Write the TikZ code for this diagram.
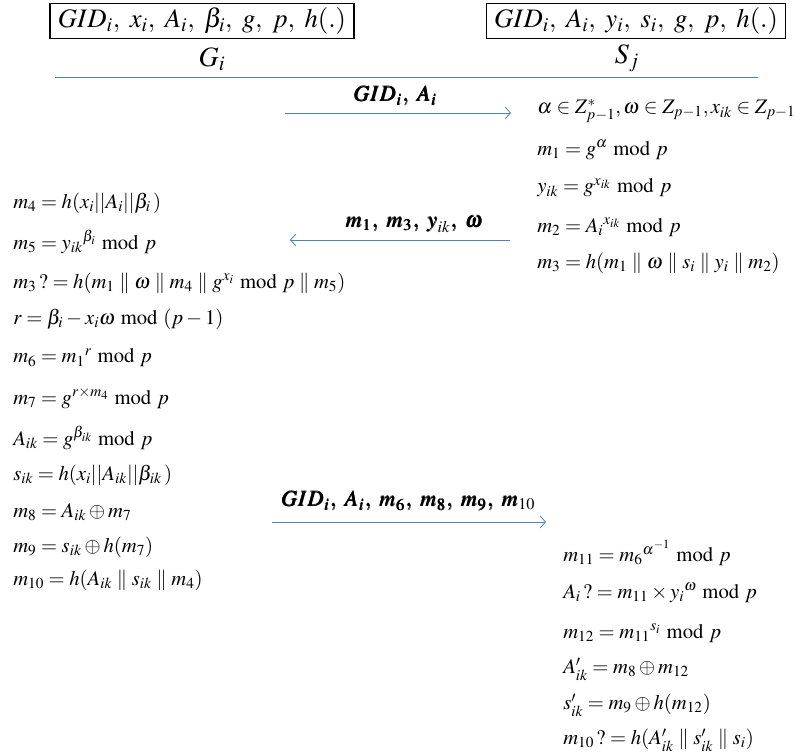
\documentclass[tikz,border=0pt]{standalone}
\usepackage{mathptmx}
\usepackage{bm}
\usepackage{fontspec}
\setmainfont{Liberation Serif}
\usetikzlibrary{arrows.meta}
\definecolor{msgblue}{RGB}{79,129,189}
\newcommand{\pp}{\mathrel{\|}}
\tikzset{
  eq/.style={anchor=west, inner sep=0pt, font=\fontsize{15.5}{17}\selectfont},
  hdr/.style={draw, line width=0.9pt, inner xsep=6pt, inner ysep=3pt, font=\fontsize{20}{22}\selectfont},
  party/.style={inner sep=0pt, font=\fontsize{21}{23}\selectfont},
  msg/.style={draw=msgblue, line width=0.6pt, -{Straight Barb[length=4pt,width=9pt]}},
  msglabel/.style={inner sep=0pt, font=\fontsize{16.5}{18}\selectfont},
}
\begin{document}
\begin{tikzpicture}[x=0.75pt,y=-0.75pt]
\useasboundingbox (0,0) rectangle (796,756);
% headers
\node[hdr] (hg) at (202,21) {$GID_i,\ x_i,\ A_i,\ \beta_i,\ g,\ p,\ h(.)$};
\node[hdr] (hs) at (636,21) {$GID_i,\ A_i,\ y_i,\ s_i,\ g,\ p,\ h(.)$};
\node[party] (gi) at (212,59) {$G_i$};
\node[party] (sj) at (627,58) {$S_j$};
\coordinate (la) at (55,77);
\coordinate (lb) at (758,77);
\draw[msgblue, line width=0.6pt] (la) -- (lb);
% message 1
\coordinate (a1s) at (285,113);
\coordinate (a1e) at (511,113);
\draw[msg] (a1s) -- (a1e);
\node[msglabel] (l1) at (395,96) {$\bm{GID_i,\; A_i}$};
% server column 1
\node[eq] (s1) at (537,111) {$\alpha \in Z^{*}_{p-1}, \omega \in Z_{p-1}, x_{ik} \in Z_{p-1}$};
\node[eq] (s2) at (537,150) {$m_1 = g^{\alpha} \bmod p$};
\node[eq] (s3) at (537,188) {$y_{ik} = g^{x_{ik}} \bmod p$};
\node[eq] (s4) at (537,227) {$m_2 = {A_i}^{x_{ik}} \bmod p$};
\node[eq] (s5) at (537,263) {$m_3 = h(m_1 \pp \omega \pp s_i \pp y_i \pp m_2)$};
% message 2
\coordinate (a2s) at (510,240);
\coordinate (a2e) at (290,240);
\draw[msg] (a2s) -- (a2e);
\node[msglabel] (l2) at (414,224) {$\bm{m_1,\; m_3,\; y_{ik},\; \omega}$};
% group column
\node[eq] (g1) at (13,203) {$m_4 = h(x_i||A_i||\beta_i\,)$};
\node[eq] (g2) at (13,242) {$m_5 = {y_{ik}}^{\beta_i} \bmod p$};
\node[eq] (g3) at (13,283) {$m_3\,?= h(m_1 \pp \omega \pp m_4 \pp g^{x_i} \bmod p \pp m_5)$};
\node[eq] (g4) at (13,319) {$r = \beta_i - x_i\omega \bmod (p-1)$};
\node[eq] (g5) at (13,358) {$m_6 = {m_1}^{r} \bmod p$};
\node[eq] (g6) at (13,398) {$m_7 = g^{r\times m_4} \bmod p$};
\node[eq] (g7) at (13,438) {$A_{ik} = g^{\beta_{ik}} \bmod p$};
\node[eq] (g8) at (13,475) {$s_{ik} = h(x_i||A_{ik}||\beta_{ik}\,)$};
\node[eq] (g9) at (13,512) {$m_8 = A_{ik} \oplus m_7$};
\node[eq] (g10) at (13,547) {$m_9 = s_{ik} \oplus h(m_7)$};
\node[eq] (g11) at (13,580) {$m_{10} = h(A_{ik} \pp s_{ik} \pp m_4)$};
% message 3
\coordinate (a3s) at (272,522);
\coordinate (a3e) at (546,522);
\draw[msg] (a3s) -- (a3e);
\node[msglabel] (l3) at (408,501) {$\bm{GID_i,\; A_i,\; m_6,\; m_8,\; m_9,\; m_{10}}$};
% server column 2
\node[eq] (t1) at (563,553) {$m_{11} = {m_6}^{\alpha^{-1}} \bmod p$};
\node[eq] (t2) at (563,593) {$A_i\,?= m_{11} \times {y_i}^{\omega} \bmod p$};
\node[eq] (t3) at (563,633) {$m_{12} = {m_{11}}^{s_i} \bmod p$};
\node[eq] (t4) at (563,669) {$A'_{ik} = m_8 \oplus m_{12}$};
\node[eq] (t5) at (563,705) {$s'_{ik} = m_9 \oplus h(m_{12})$};
\node[eq] (t6) at (563,740) {$m_{10}\,?= h(A'_{ik} \pp s'_{ik} \pp s_i)$};
\end{tikzpicture}
\end{document}
